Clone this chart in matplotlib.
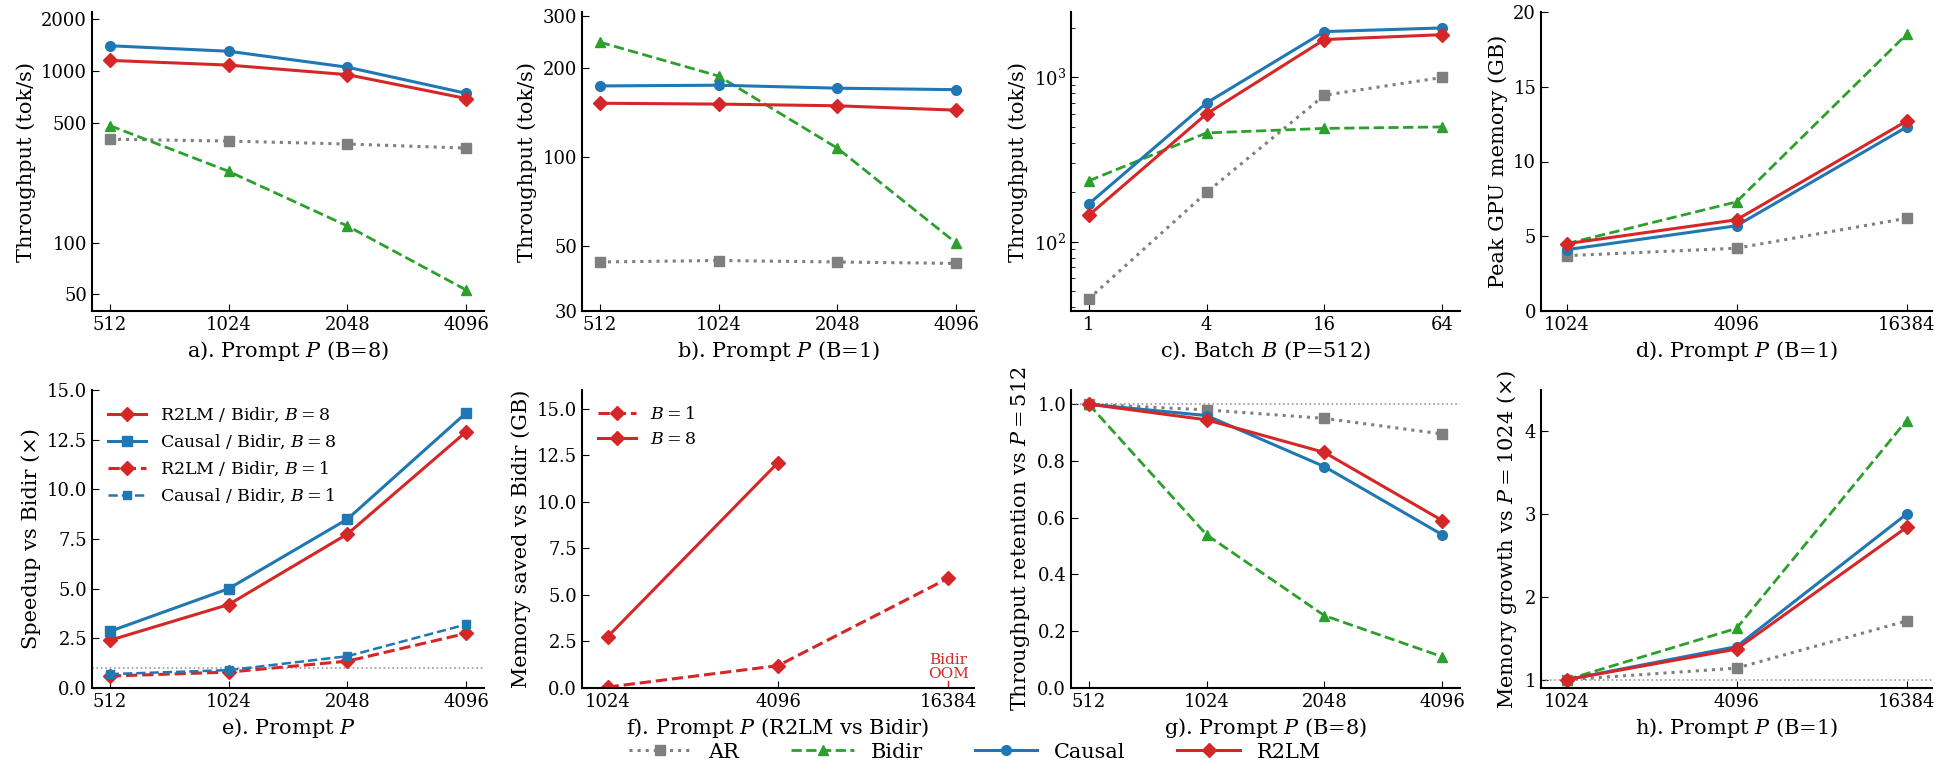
import matplotlib
matplotlib.use("Agg")
import matplotlib.pyplot as plt
from matplotlib.lines import Line2D

plt.rcParams['font.family'] = ['DejaVu Serif']
plt.rcParams['mathtext.fontset'] = 'dejavuserif'
plt.rcParams['font.size'] = 13

C_AR, C_BI, C_CA, C_R2 = '#7f7f7f', '#2ca02c', '#1f77b4', '#d62728'

P_a = [512, 1024, 2048, 4096]
a_ar = [400, 390, 375, 355]
a_bi = [480, 260, 125, 53]
a_ca = [1400, 1300, 1050, 740]
a_r2 = [1150, 1080, 950, 690]

b_ar = [44, 44.5, 44, 43.5]
b_bi = [245, 188, 107, 51]
b_ca = [174, 175, 171, 169]
b_r2 = [152, 151, 149, 144]

B_c = [1, 4, 16, 64]
c_ar = [45, 200, 780, 1000]
c_bi = [235, 460, 490, 500]
c_ca = [170, 700, 1900, 2000]
c_r2 = [145, 600, 1700, 1820]

P_d = [1024, 4096, 16384]
d_ar = [3.7, 4.2, 6.2]
d_bi = [4.5, 7.3, 18.5]
d_ca = [4.1, 5.7, 12.3]
d_r2 = [4.5, 6.1, 12.7]

e_r2_b8 = [2.4, 4.2, 7.75, 12.9]
e_ca_b8 = [2.85, 5.0, 8.5, 13.85]
e_r2_b1 = [0.6, 0.8, 1.35, 2.75]
e_ca_b1 = [0.7, 0.9, 1.6, 3.2]

f_b1 = [0.05, 1.2, 5.9]
f_b8 = [2.75, 12.1]

g_ar = [1.0, 0.98, 0.95, 0.895]
g_bi = [1.0, 0.54, 0.255, 0.11]
g_ca = [1.0, 0.96, 0.78, 0.54]
g_r2 = [1.0, 0.945, 0.83, 0.59]

h_ar = [1.0, 1.14, 1.71]
h_bi = [1.0, 1.62, 4.13]
h_ca = [1.0, 1.4, 3.0]
h_r2 = [1.0, 1.37, 2.84]

W, H = 1950, 776
fig = plt.figure(figsize=(19.5, 7.76), dpi=100)
cols = [(92, 484), (582, 974), (1071, 1460), (1541, 1932)]
rows = [(12, 311), (390, 688)]
axs = []
for r in rows:
    for c in cols:
        axs.append(fig.add_axes([c[0]/W, 1-r[1]/H, (c[1]-c[0])/W, (r[1]-r[0])/H]))

def style(ax):
    ax.spines['top'].set_visible(False)
    ax.spines['right'].set_visible(False)
    ax.spines['left'].set_linewidth(1.5)
    ax.spines['bottom'].set_linewidth(1.5)
    ax.tick_params(direction='in', length=5, labelsize=13)
    ax.tick_params(which='minor', direction='in', length=3)

def four(ax, xs, ar, bi, ca, r2):
    ax.plot(xs, ar, ':', color=C_AR, marker='s', ms=7, lw=2.2)
    ax.plot(xs, bi, '--', color=C_BI, marker='^', ms=7, lw=2)
    ax.plot(xs, ca, '-', color=C_CA, marker='o', ms=7, lw=2.2)
    ax.plot(xs, r2, '-', color=C_R2, marker='D', ms=7, lw=2.2)

def catx(ax, labels):
    ax.set_xticks(range(len(labels)))
    ax.set_xticklabels([str(l) for l in labels])
    ax.set_xlim(-0.15, len(labels) - 1 + 0.15)

x4 = list(range(4)); x3 = list(range(3))

ax = axs[0]; style(ax)
four(ax, x4, a_ar, a_bi, a_ca, a_r2)
ax.set_yscale('log'); ax.set_ylim(40, 2200)
ax.set_yticks([50, 100, 500, 1000, 2000]); ax.set_yticklabels(['50', '100', '500', '1000', '2000'])
ax.minorticks_off(); catx(ax, P_a)
ax.set_ylabel('Throughput (tok/s)', fontsize=15)
ax.set_xlabel('a). Prompt $P$ (B=8)', fontsize=15)

ax = axs[1]; style(ax)
four(ax, x4, b_ar, b_bi, b_ca, b_r2)
ax.set_yscale('log'); ax.set_ylim(30, 310)
ax.set_yticks([30, 50, 100, 200, 300]); ax.set_yticklabels(['30', '50', '100', '200', '300'])
ax.minorticks_off(); catx(ax, P_a)
ax.set_ylabel('Throughput (tok/s)', fontsize=15)
ax.set_xlabel('b). Prompt $P$ (B=1)', fontsize=15)

ax = axs[2]; style(ax)
four(ax, x4, c_ar, c_bi, c_ca, c_r2)
ax.set_yscale('log'); ax.set_ylim(38, 2500)
catx(ax, B_c)
ax.set_ylabel('Throughput (tok/s)', fontsize=15)
ax.set_xlabel('c). Batch $B$ (P=512)', fontsize=15)

ax = axs[3]; style(ax)
four(ax, x3, d_ar, d_bi, d_ca, d_r2)
ax.set_ylim(0, 20); ax.set_yticks([0, 5, 10, 15, 20])
catx(ax, P_d)
ax.set_ylabel('Peak GPU memory (GB)', fontsize=15)
ax.set_xlabel('d). Prompt $P$ (B=1)', fontsize=15)

ax = axs[4]; style(ax)
ax.axhline(1.0, color='#999999', ls=':', lw=1.2)
ax.plot(x4, e_r2_b8, '-', color=C_R2, marker='D', ms=7, lw=2.2, label='R2LM / Bidir, $B=8$')
ax.plot(x4, e_ca_b8, '-', color=C_CA, marker='s', ms=7, lw=2.2, label='Causal / Bidir, $B=8$')
ax.plot(x4, e_r2_b1, '--', color=C_R2, marker='D', ms=7, lw=2.2, label='R2LM / Bidir, $B=1$')
ax.plot(x4, e_ca_b1, '--', color=C_CA, marker='s', ms=6, lw=1.8, label='Causal / Bidir, $B=1$')
ax.set_ylim(0, 15); ax.set_yticks([0, 2.5, 5, 7.5, 10, 12.5, 15])
catx(ax, P_a)
ax.legend(loc='upper left', frameon=False, fontsize=12.5, handlelength=2.2)
ax.set_ylabel('Speedup vs Bidir (×)', fontsize=15)
ax.set_xlabel('e). Prompt $P$', fontsize=15)

ax = axs[5]; style(ax)
ax.plot(x3, f_b1, '--', color=C_R2, marker='D', ms=7, lw=2.2, label='$B=1$')
ax.plot(x3[:len(f_b8)], f_b8, '-', color=C_R2, marker='D', ms=7, lw=2.2, label='$B=8$')
ax.plot([2, 2], [0, 0.4], '-', color=C_R2, lw=1)
ax.text(2, 0.35, 'Bidir\nOOM', color=C_R2, ha='center', va='bottom', fontsize=11, linespacing=1.0)
ax.set_ylim(0, 16); ax.set_yticks([0, 2.5, 5, 7.5, 10, 12.5, 15])
catx(ax, P_d)
ax.legend(loc='upper left', frameon=False, fontsize=12.5, handlelength=2.2)
ax.set_ylabel('Memory saved vs Bidir (GB)', fontsize=15)
ax.set_xlabel('f). Prompt $P$ (R2LM vs Bidir)', fontsize=15)

ax = axs[6]; style(ax)
ax.axhline(1.0, color='#999999', ls=':', lw=1.2)
four(ax, x4, g_ar, g_bi, g_ca, g_r2)
ax.set_ylim(0, 1.05); ax.set_yticks([0, 0.2, 0.4, 0.6, 0.8, 1.0])
catx(ax, P_a)
ax.set_ylabel('Throughput retention vs $P=512$', fontsize=15)
ax.set_xlabel('g). Prompt $P$ (B=8)', fontsize=15)

ax = axs[7]; style(ax)
ax.axhline(1.0, color='#999999', ls=':', lw=1.2)
four(ax, x3, h_ar, h_bi, h_ca, h_r2)
ax.set_ylim(0.9, 4.5); ax.set_yticks([1, 2, 3, 4])
catx(ax, P_d)
ax.set_ylabel('Memory growth vs $P=1024$ (×)', fontsize=15)
ax.set_xlabel('h). Prompt $P$ (B=1)', fontsize=15)

handles = [
    Line2D([], [], ls=':', color=C_AR, marker='s', ms=7, lw=2.2),
    Line2D([], [], ls='--', color=C_BI, marker='^', ms=7, lw=2),
    Line2D([], [], ls='-', color=C_CA, marker='o', ms=7, lw=2.2),
    Line2D([], [], ls='-', color=C_R2, marker='D', ms=7, lw=2.2),
]
fig.legend(handles, ['AR', 'Bidir', 'Causal', 'R2LM'], loc='center', bbox_to_anchor=(0.5, 1 - 752/H),
           ncol=4, frameon=False, fontsize=15, handlelength=3, columnspacing=2.5)

fig.savefig('out.png', dpi=100)
